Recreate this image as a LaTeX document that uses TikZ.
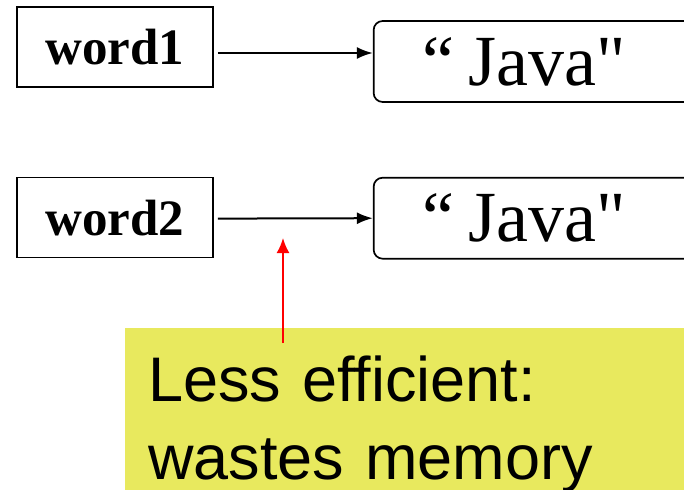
\documentclass[tikz,border=0pt]{standalone}
\usepackage{fontspec}
\setmainfont{Liberation Serif}
\newfontfamily\strfont{Liberation Serif}
\newfontfamily\notefont{Liberation Sans}
\usepackage{tikz}
\usetikzlibrary{positioning,arrows.meta}

\begin{document}
\begin{tikzpicture}[x=1pt,y=-1pt,node distance=80pt]
	\tikzstyle{var}=[draw,line width=1.6pt,minimum width=196pt,minimum height=80pt,inner sep=0pt,font=\fontsize{51}{60}\selectfont\bfseries]
	\tikzstyle{str}=[draw,line width=1.7pt,rounded corners=9pt,anchor=west,text width=380pt,align=left,inner xsep=49pt,minimum height=81pt,inner ysep=0pt,font=\strfont\fontsize{72}{80}\selectfont]
	\tikzstyle{ref}=[line width=2pt,-{Latex[length=16pt,width=12pt]}]
	\useasboundingbox (0,0) rectangle (684,489);
		\node[var] (word1) at (115,47) {word1};
		\node[str, right=159pt of word1, yshift=-14.5pt] (java1) {“\hspace{0.2em}Java"};
		\node[var, below=89pt of word1] (word2) {word2};
		\node[str, below=74pt of java1.south west, anchor=north west] (java2) {“\hspace{0.2em}Java"};
			\draw[ref] ([xshift=4pt,yshift=-6pt]word1.east) -- ([yshift=8.5pt]java1.west);
			\draw[ref] ([xshift=4pt,yshift=-1pt]word2.east) -- (java2.west);
		% the note
		\node[fill={rgb,255:red,232;green,233;blue,94},anchor=north west,text width=560pt,align=left,inner xsep=23pt,inner ysep=28pt,font=\notefont\fontsize{63}{78}\selectfont] (note) at (125,328) {Less efficient:\\wastes memory};
		\coordinate (waste) at (283,238);
			\draw[red,line width=2pt,-{Latex[length=15pt,width=13pt]}] ([yshift=-15pt]note.north -| waste) -- (waste);
\end{tikzpicture}
\end{document}
